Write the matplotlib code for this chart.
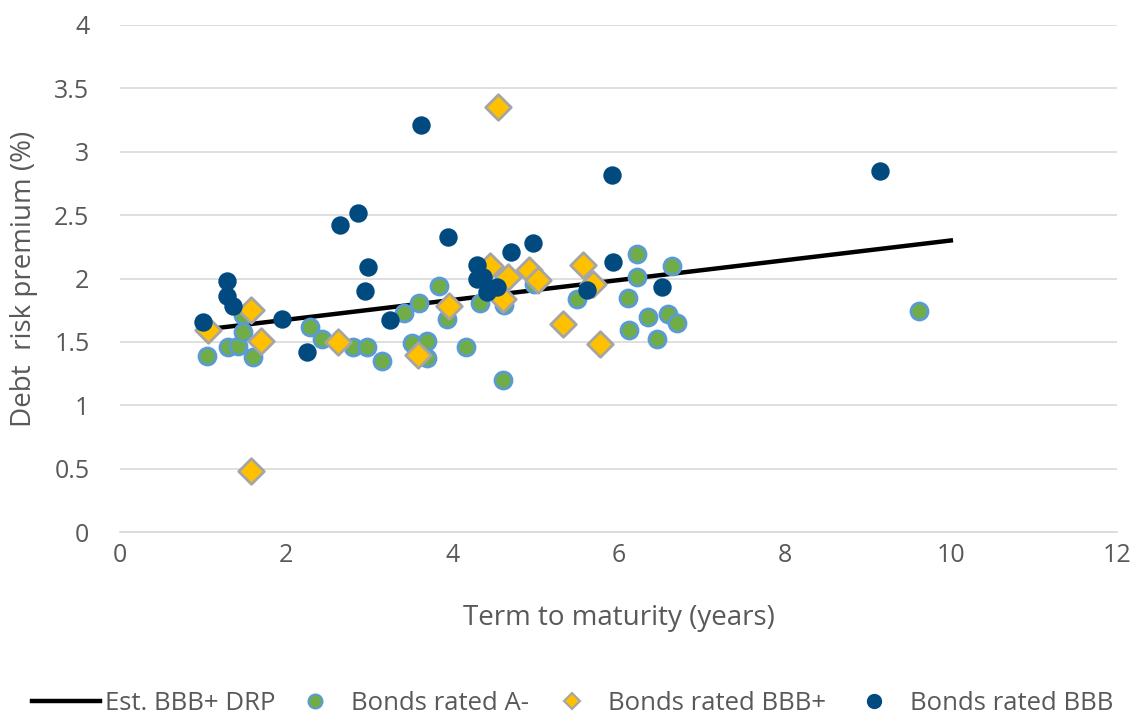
import matplotlib.pyplot as plt
from matplotlib.lines import Line2D

# bonds rated A-
a_term = [1.05, 1.30, 1.42, 1.48, 1.48, 1.60, 2.29, 2.43, 2.80, 2.97, 3.15, 3.42, 3.51, 3.60,
          3.70, 3.70, 3.84, 3.94, 4.17, 4.33, 4.61, 4.62, 4.98, 5.50, 6.11, 6.13, 6.22, 6.22,
          6.36, 6.46, 6.60, 6.64, 6.70, 9.62]
a_drp = [1.39, 1.46, 1.47, 1.58, 1.71, 1.38, 1.62, 1.52, 1.46, 1.46, 1.35, 1.73, 1.49, 1.81,
         1.51, 1.37, 1.94, 1.68, 1.46, 1.81, 1.20, 1.79, 1.96, 1.84, 1.85, 1.59, 2.19, 2.01,
         1.70, 1.52, 1.72, 2.10, 1.65, 1.74]

# bonds rated BBB+
bbbp_term = [1.06, 1.58, 1.70, 1.58, 2.62, 3.59, 3.96, 4.45, 4.55, 4.61, 4.67, 4.92, 5.03,
             5.33, 5.57, 5.69, 5.78]
bbbp_drp = [1.59, 1.75, 1.51, 0.48, 1.50, 1.40, 1.78, 2.10, 3.35, 1.84, 2.01, 2.07, 1.99,
            1.64, 2.11, 1.96, 1.48]

# bonds rated BBB
bbb_term = [1.00, 1.29, 1.29, 1.36, 1.95, 2.25, 2.65, 2.87, 2.95, 2.99, 3.25, 3.62, 3.95,
            4.30, 4.30, 4.37, 4.42, 4.54, 4.71, 4.97, 5.62, 5.92, 5.93, 6.52, 9.15]
bbb_drp = [1.66, 1.98, 1.86, 1.78, 1.68, 1.42, 2.42, 2.52, 1.90, 2.09, 1.67, 3.21, 2.33,
           2.11, 2.00, 2.01, 1.89, 1.93, 2.21, 2.28, 1.91, 2.82, 2.13, 1.93, 2.85]

# estimated BBB+ DRP curve
est_term = [1.05, 10.0]
est_drp = [1.60, 2.30]

labels = ['Est. BBB+ DRP', 'Bonds rated A-', 'Bonds rated BBB+', 'Bonds rated BBB']

grey = '#595959'
plt.rcParams['font.family'] = ['Open Sans', 'DejaVu Sans']

fig = plt.figure(figsize=(11.38, 7.17), dpi=100)
ax = fig.add_axes([120 / 1138, 1 - 532 / 717, 997 / 1138, 507 / 717])

ax.plot(est_term, est_drp, color='black', lw=3.2, zorder=2)
ax.scatter(a_term, a_drp, s=150, c='#70AD47', edgecolors='#5B9BD5', linewidths=2, zorder=3)
ax.scatter(bbbp_term, bbbp_drp, s=170, marker='D', c='#FFC000', edgecolors='#A5A5A5',
           linewidths=2, zorder=4)
ax.scatter(bbb_term, bbb_drp, s=150, c='#004A80', edgecolors='#004A80', linewidths=1, zorder=5)

ax.set_xlim(0, 12)
ax.set_ylim(0, 4)
ax.set_xticks(range(0, 13, 2))
ax.set_yticks([0, 0.5, 1, 1.5, 2, 2.5, 3, 3.5, 4])
ax.set_yticklabels(['0', '0.5', '1', '1.5', '2', '2.5', '3', '3.5', '4'])
ax.grid(axis='y', color='#D9D9D9', lw=1.2)
ax.set_axisbelow(True)
for s in ['top', 'right', 'left']:
    ax.spines[s].set_visible(False)
ax.spines['bottom'].set_color('#D9D9D9')
ax.spines['bottom'].set_linewidth(1.2)
ax.tick_params(length=0, labelsize=18, labelcolor=grey)
ax.tick_params(axis='y', pad=22)
ax.tick_params(axis='x', pad=8)

ax.set_xlabel('Term to maturity (years)', fontsize=20, color=grey, labelpad=26)
ax.set_ylabel('Debt  risk premium (%)', fontsize=20, color=grey, labelpad=12)

# legend entries placed one by one, like the Excel legend row
handles = [
    Line2D([], [], color='black', lw=3.2),
    Line2D([], [], ls='', marker='o', ms=10, mfc='#70AD47', mec='#5B9BD5', mew=1.5),
    Line2D([], [], ls='', marker='D', ms=8, mfc='#FFC000', mec='#A5A5A5', mew=1.5),
    Line2D([], [], ls='', marker='o', ms=10, mfc='#004A80', mec='#004A80'),
]
leg_x = [32, 307, 564, 866]
hlen = [2.65, 0.6, 0.6, 0.6]
hpad = [0.2, 1.1, 1.1, 1.1]
for h, lab, x0, hl, hp in zip(handles, labels, leg_x, hlen, hpad):
    fig.legend([h], [lab], loc='center left', bbox_to_anchor=(x0 / 1138, 1 - 703 / 717),
               frameon=False, fontsize=18.5, labelcolor=grey,
               handlelength=hl, handletextpad=hp, borderpad=0, borderaxespad=0)

fig.savefig('out.png', dpi=100)
